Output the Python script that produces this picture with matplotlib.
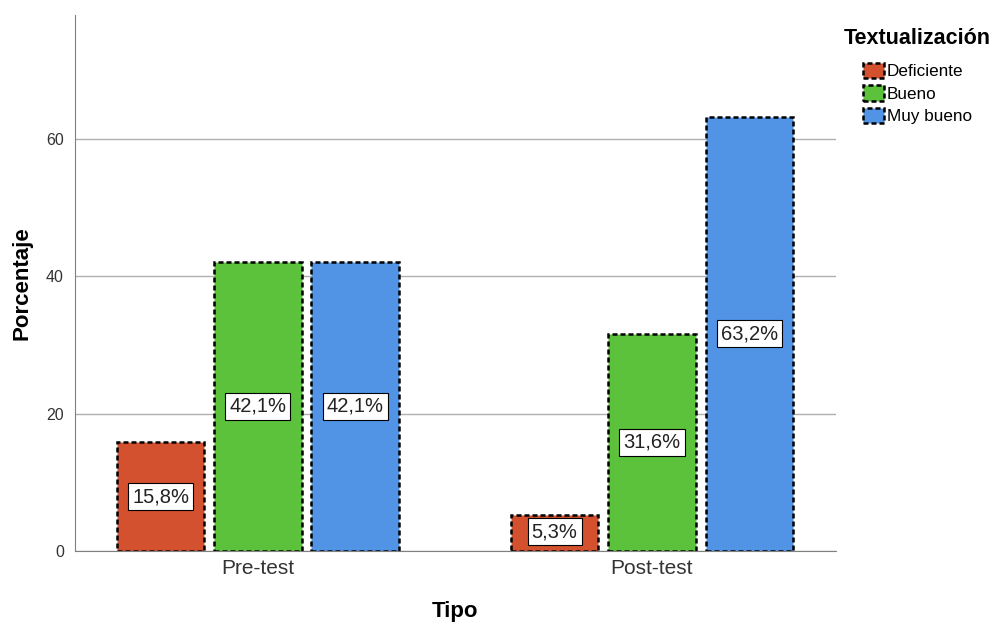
# grouped bar chart: Textualización by test type (pre/post)
import numpy as np
import matplotlib.pyplot as plt

plt.rcParams['font.family'] = ['Liberation Sans', 'DejaVu Sans']

tipos = ['Pre-test', 'Post-test']
niveles = ['Deficiente', 'Bueno', 'Muy bueno']
deficiente = [15.8, 5.3]
bueno = [42.1, 31.6]
muy_bueno = [42.1, 63.2]
colores = ['#D3512F', '#5CC13B', '#5194E6']

fig = plt.figure(figsize=(9.94, 6.26), dpi=100)
ax = fig.add_axes([75/994, 1-551/626, 761/994, 536/626])

x = np.arange(len(tipos))
width = 0.222
step = 0.247
series = [deficiente, bueno, muy_bueno]

ax.set_axisbelow(True)
ax.yaxis.grid(True, color='#b0b0b0', linewidth=1)

for i, (vals, nombre, col) in enumerate(zip(series, niveles, colores)):
    pos = x + (i - 1) * step
    ax.bar(pos, vals, width, color=col, edgecolor='black', linewidth=1.8,
           linestyle=(0, (2, 1.2)), label=nombre)
    for p, v in zip(pos, vals):
        ax.text(p, max(v / 2, 2.8), f'{v:.1f}%'.replace('.', ','), ha='center', va='center',
                fontsize=14.5, color='#222222',
                bbox=dict(boxstyle='square,pad=0.2', fc='white', ec='black', lw=0.8))

ax.set_xlim(-0.464, 1.467)
ax.set_ylim(0, 78)
ax.set_yticks([0, 20, 40, 60])
ax.set_xticks(x)
ax.set_xticklabels(tipos, fontsize=15, color='#333333')
ax.tick_params(axis='y', length=0, labelsize=11.5, colors='#333333', pad=8)
ax.tick_params(axis='x', length=0, pad=6)
for s in ['top', 'right']:
    ax.spines[s].set_visible(False)
for s in ['left', 'bottom']:
    ax.spines[s].set_color('#808080')

ax.set_ylabel('Porcentaje', fontsize=16, fontweight='bold', labelpad=10)
ax.set_xlabel('Tipo', fontsize=16, fontweight='bold', labelpad=16)

# legend title drawn separately to get the SPSS-like spacing
fig.text(917/994, 1-38/626, 'Textualización', ha='center', va='center',
         fontsize=15.5, fontweight='bold')
leg = ax.legend(loc='upper left',
                bbox_to_anchor=(863/994, 1-63/626), bbox_transform=fig.transFigure,
                frameon=False, fontsize=12.3, handlelength=1.2, handleheight=1.0,
                handletextpad=0.2, labelspacing=0.35, borderaxespad=0.0, borderpad=0.0)

plt.savefig('out.png', dpi=100)
